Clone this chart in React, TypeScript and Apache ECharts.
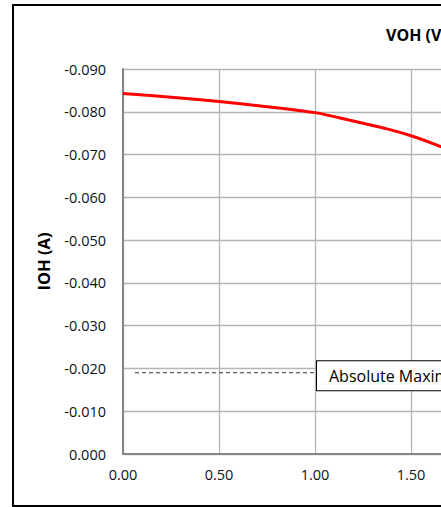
import { useEffect, useRef } from "react";
import * as echarts from "echarts";

// VOH (V) vs IOH (A)
const vohValues = [0, 0.25, 0.5, 0.75, 1.0, 1.125, 1.25, 1.375, 1.5, 1.625, 1.75];
const iohValues = [-0.0843, -0.0834, -0.0824, -0.0812, -0.0798, -0.0786, -0.0773, -0.076, -0.0744, -0.0724, -0.07];

// Absolute maximum reference line
const limitV = [0.0625, 1.0];
const limitI = [-0.019, -0.019];
const limitLabel = "Absolute Maximum Rating";

const titleText = "VOH (V)";
const yName = "IOH (A)";

const FONT = "'Open Sans', 'Noto Sans', sans-serif";

export default function App() {
  const ref = useRef<HTMLDivElement>(null);

  useEffect(() => {
    if (!ref.current) return;
    const chart = echarts.init(ref.current, undefined, { renderer: "svg" });
    const curve = vohValues.map((v, i) => [v, iohValues[i]]);
    const limit = limitV.map((v, i) => [v, limitI[i]]);
    chart.setOption({
      animation: false,
      backgroundColor: "#ffffff",
      title: {
        text: titleText,
        left: 386,
        top: 27,
        padding: 0,
        textStyle: { fontFamily: FONT, fontSize: 16, fontWeight: "bold", color: "#000" },
      },
      graphic: [
        {
          type: "rect",
          shape: { x: 13, y: 5, width: 740, height: 501 },
          style: { fill: "none", stroke: "#000", lineWidth: 2 },
          z: 100,
        },
      ],
      grid: { left: 123, top: 69, width: 576, height: 385, containLabel: false },
      xAxis: {
        type: "value",
        min: 0,
        max: 3,
        interval: 0.5,
        axisLine: { show: true, lineStyle: { color: "#868686", width: 2 } },
        axisTick: { show: false },
        splitLine: { show: true, lineStyle: { color: "#b4b4b4", width: 1.3 } },
        axisLabel: {
          formatter: (v: number) => v.toFixed(2),
          fontFamily: FONT,
          fontSize: 14.5,
          color: "#111",
          margin: 13,
        },
      },
      yAxis: {
        type: "value",
        inverse: true,
        min: -0.09,
        max: 0,
        interval: 0.01,
        name: yName,
        nameLocation: "middle",
        nameGap: 71,
        nameTextStyle: { fontFamily: FONT, fontSize: 16.5, fontWeight: "bold", color: "#000" },
        axisLine: { show: true, lineStyle: { color: "#868686", width: 2 } },
        axisTick: { show: false },
        splitLine: { show: true, lineStyle: { color: "#b4b4b4", width: 1.3 } },
        axisLabel: {
          formatter: (v: number) => (Math.abs(v) < 1e-9 ? "0.000" : v.toFixed(3)),
          fontFamily: FONT,
          fontSize: 14.5,
          color: "#111",
          margin: 17,
        },
      },
      series: [
        {
          type: "line",
          data: curve,
          smooth: 0.3,
          showSymbol: false,
          lineStyle: { color: "#ff0000", width: 3 },
          z: 5,
        },
        {
          type: "line",
          data: limit,
          showSymbol: false,
          symbol: "none",
          lineStyle: { color: "#333", width: 1, type: [4, 3] },
          endLabel: {
            show: true,
            formatter: limitLabel,
            distance: 2,
            offset: [0, 3],
            fontFamily: FONT,
            fontSize: 16,
            color: "#000",
            backgroundColor: "#fff",
            borderColor: "#000",
            borderWidth: 1,
            padding: [7, 12, 6, 12],
          },
          z: 6,
        },
      ],
    });
    return () => chart.dispose();
  }, []);

  return (
    <div
      style={{
        position: "absolute",
        left: 0,
        top: 0,
        width: 441,
        height: 507,
        overflow: "hidden",
        background: "#fff",
      }}
    >
      <div ref={ref} style={{ width: 760, height: 507 }} />
    </div>
  );
}
